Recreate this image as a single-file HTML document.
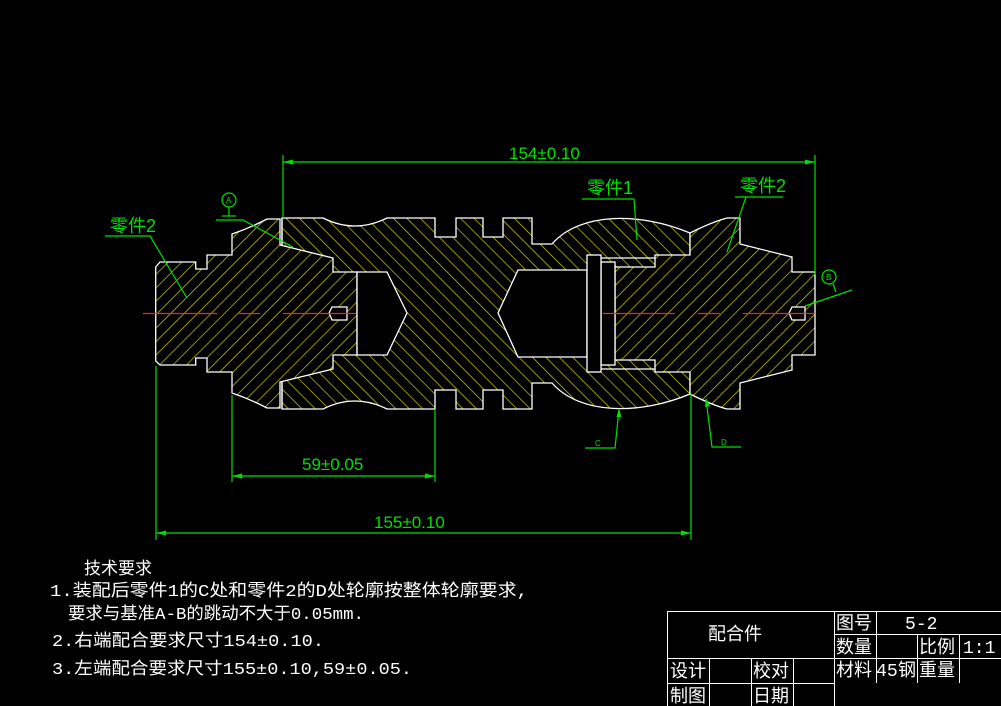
<!DOCTYPE html>
<html><head><meta charset="utf-8"><style>
html,body{margin:0;padding:0;background:#000;}
svg{display:block}
.g{fill:#00e000;font-family:"Liberation Sans","Noto Sans CJK SC",sans-serif;}
.w{fill:#fff;font-family:"Liberation Mono","Noto Sans CJK SC",sans-serif;}
</style></head><body>
<svg width="1001" height="706" viewBox="0 0 1001 706" xmlns="http://www.w3.org/2000/svg">
<defs>
<pattern id="hb" patternUnits="userSpaceOnUse" width="9.5" height="9.5" patternTransform="rotate(-45)">
<rect width="9.5" height="9.5" fill="#000"/><line x1="0" y1="0" x2="0" y2="9.5" stroke="#e0e000" stroke-width="1.3"/></pattern>
<pattern id="hf" patternUnits="userSpaceOnUse" width="9.5" height="9.5" patternTransform="rotate(45)">
<rect width="9.5" height="9.5" fill="#000"/><line x1="0" y1="0" x2="0" y2="9.5" stroke="#e0e000" stroke-width="1.3"/></pattern>
</defs>
<rect width="1001" height="706" fill="#000"/>

<g stroke="#fff" stroke-width="1.3" stroke-linejoin="miter">
<path fill="url(#hb)" d="M282,218 L323,218 Q355,234 387,218 L435,218 L435,237 L456,237 L456,218 L483,218 L483,237 L503,237 L503,218 L532,218 L532,244 L552,244 C580,212 640,212 690,233 L690,394 C640,415 580,415 552,383 L532,383 L532,409 L503,409 L503,390 L483,390 L483,409 L456,409 L456,390 L435,390 L435,409 L387,409 Q355,393 323,409 L282,409 Z"/>
<path fill="url(#hf)" d="M155.7,267 L160,262 L195.7,262 L195.7,269 L207,269 L207,255 L232,255 L232,234 Q250,228 267,219 L280,219 L280,245 L333,258 L333,272 L357,272 L357,355 L333,355 L333,369 L280,382 L280,408 L267,408 Q250,399 232,393 L232,372 L207,372 L207,358 L195.7,358 L195.7,365 L160,365 L155.7,361 Z"/>
<path fill="url(#hf)" d="M615,267 L655,267 L655,255 L690,255 L690,233 Q712,222 727,218 L740,218 L740,244 L792,257 L792,272 L815,272 L815,355 L792,355 L792,370 L740,383 L740,409 L727,409 Q712,405 690,394 L690,372 L655,372 L655,360 L615,360 Z"/>
<path fill="#000" d="M357,272 L387,272 L407,313 L387,355 L357,355 Z"/>
<path fill="#000" d="M332,307 L347,307 L347,320 L332,320 L329,313 Z"/>
<path fill="#000" d="M518,270 L587,270 L587,357 L518,357 L498,313 Z"/>
<rect x="601" y="262" width="14" height="103" fill="#000"/>
<rect x="587" y="255" width="14" height="117" fill="#000"/>
<path fill="#000" d="M805,307 L792,307 L789,313 L792,320 L805,320 Z"/>
<path fill="none" d="M601,258 L655,258 M601,369 L655,369 M282,218 L282,245 M282,382 L282,409"/>
</g>
<g stroke="#ff2020" stroke-width="1.3">
<line x1="143" y1="313.5" x2="217" y2="313.5"/><line x1="238" y1="313.5" x2="260" y2="313.5"/><line x1="283" y1="313.5" x2="356" y2="313.5"/>
<line x1="603" y1="313.5" x2="675" y2="313.5"/><line x1="698" y1="313.5" x2="720" y2="313.5"/><line x1="743" y1="313.5" x2="815" y2="313.5"/>
</g>
<g stroke="#00e000" stroke-width="1.2" fill="none">
<line x1="283" y1="162" x2="815" y2="162"/><line x1="283" y1="155" x2="283" y2="218"/><line x1="815" y1="155" x2="815" y2="275"/>
<line x1="232" y1="476" x2="435" y2="476"/><line x1="232" y1="395" x2="232" y2="482"/><line x1="435" y1="409" x2="435" y2="482"/>
<line x1="156" y1="533" x2="691" y2="533"/><line x1="156" y1="366" x2="156" y2="540"/><line x1="691" y1="394" x2="691" y2="540"/>
<polyline points="105,236 150,236 187,298"/>
<polyline points="582,199 634,199 637,240"/>
<polyline points="735,197 783,197 746,197 727,252"/>
<polyline points="216,220 243,220 293,247"/>
<circle cx="229" cy="200" r="7"/><line x1="229" y1="207" x2="229" y2="216"/><line x1="222" y1="216" x2="236" y2="216"/>
<circle cx="829" cy="277" r="7"/><line x1="833" y1="284" x2="836" y2="292"/><line x1="805" y1="306" x2="852" y2="290"/>
<polyline points="585,448 615,448 619,410"/>
<polyline points="741,447 712,447 706,399"/>
</g>
<g fill="#00e000">
<path d="M283,162 l10,-2.5 v5 z M815,162 l-10,-2.5 v5 z M232,476 l10,-2.5 v5 z M435,476 l-10,-2.5 v5 z M156,533 l10,-2.5 v5 z M691,533 l-10,-2.5 v5 z"/>
<path d="M619,408 l-2.5,9 h5 z M706,398 l-1,9 l5,-1 z"/>
</g>
<g class="g">
<text x="509" y="159" font-size="17">154±0.10</text>
<text x="302" y="470" font-size="17">59±0.05</text>
<text x="374" y="528" font-size="17">155±0.10</text>
<text x="110" y="232" font-size="18">零件2</text>
<text x="587" y="194" font-size="18">零件1</text>
<text x="740" y="192" font-size="18">零件2</text>
<text x="226" y="203" font-size="8">A</text>
<text x="826" y="280" font-size="8">B</text>
<text x="595" y="446" font-size="8">C</text>
<text x="721" y="445" font-size="8">D</text>
</g>
<g class="w" font-size="17">
<text x="84" y="574">技术要求</text>
<text x="50" y="596" textLength="478" lengthAdjust="spacingAndGlyphs">1.装配后零件1的C处和零件2的D处轮廓按整体轮廓要求,</text>
<text x="68" y="619" textLength="296" lengthAdjust="spacingAndGlyphs">要求与基准A-B的跳动不大于0.05mm.</text>
<text x="52" y="646" textLength="272" lengthAdjust="spacingAndGlyphs">2.右端配合要求尺寸154±0.10.</text>
<text x="52" y="674" textLength="360" lengthAdjust="spacingAndGlyphs">3.左端配合要求尺寸155±0.10,59±0.05.</text>
</g>
<g stroke="#fff" stroke-width="1" fill="none">
<rect x="667.5" y="611.5" width="340" height="100"/>
<line x1="667" y1="658.5" x2="1001" y2="658.5"/>
<line x1="667" y1="683.5" x2="834" y2="683.5"/>
<line x1="834" y1="634.5" x2="1001" y2="634.5"/>
<line x1="834.5" y1="611" x2="834.5" y2="706"/>
<line x1="876.5" y1="611" x2="876.5" y2="683"/>
<line x1="917.5" y1="634" x2="917.5" y2="683"/>
<line x1="959.5" y1="634" x2="959.5" y2="683"/>
<line x1="709.5" y1="658" x2="709.5" y2="706"/>
<line x1="751.5" y1="658" x2="751.5" y2="706"/>
<line x1="793.5" y1="658" x2="793.5" y2="706"/>
</g>
<g class="w" font-size="18">
<text x="708" y="640">配合件</text>
<text x="836" y="629">图号</text>
<text x="905" y="629">5-2</text>
<text x="836" y="653">数量</text>
<text x="919" y="653">比例</text>
<text x="963" y="653">1:1</text>
<text x="670" y="677">设计</text>
<text x="753" y="677">校对</text>
<text x="836" y="676">材料</text>
<text x="876" y="676" textLength="40" lengthAdjust="spacingAndGlyphs">45钢</text>
<text x="919" y="676">重量</text>
<text x="670" y="702">制图</text>
<text x="753" y="702">日期</text>
</g>
</svg>
</body></html>
